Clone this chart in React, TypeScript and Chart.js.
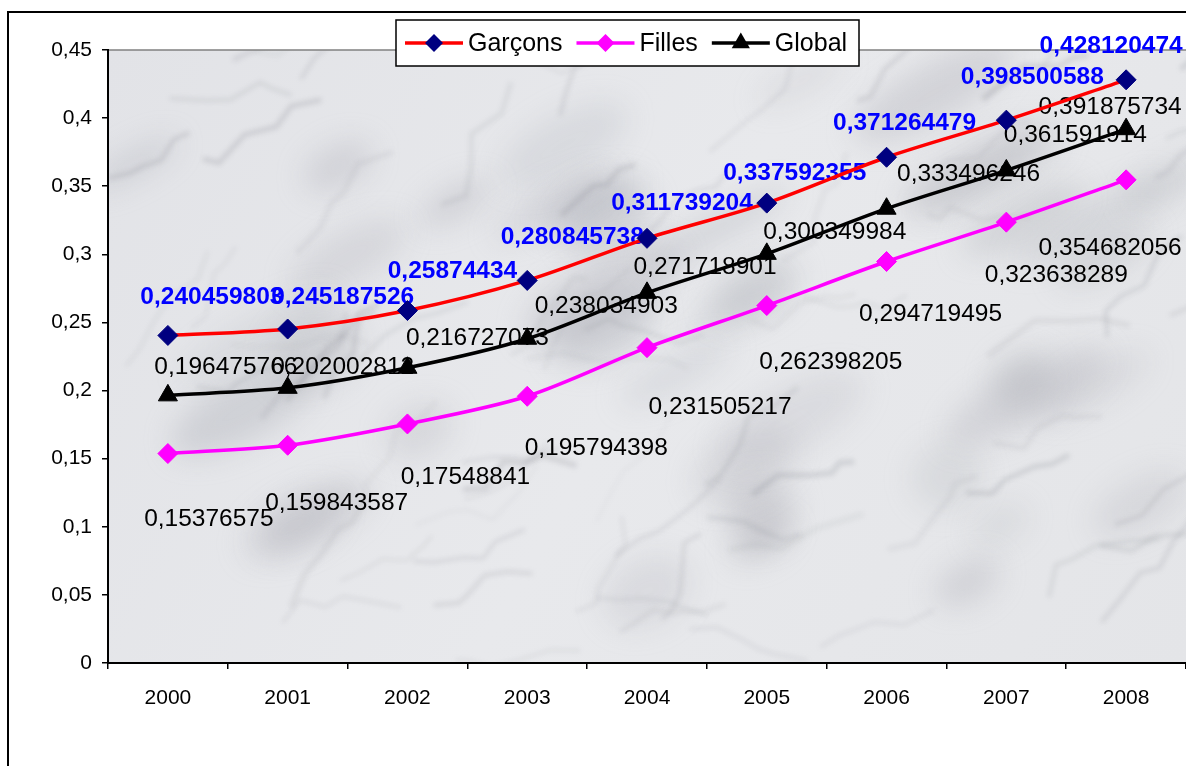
import { useEffect, useRef } from 'react'
import { Chart, registerables } from 'chart.js'
import type { Plugin } from 'chart.js'

Chart.register(...registerables)

const years = ['2000', '2001', '2002', '2003', '2004', '2005', '2006', '2007', '2008']
const seriesNames = ['Garçons', 'Filles', 'Global']

const garcons = [0.240459803, 0.245187526, 0.25874434, 0.280845738, 0.311739204, 0.337592355, 0.371264479, 0.398500588, 0.428120474]
const filles = [0.15376575, 0.159843587, 0.17548841, 0.195794398, 0.231505217, 0.262398205, 0.294719495, 0.323638289, 0.354682056]
const globalRate = [0.196475766, 0.202002812, 0.216727073, 0.238034903, 0.271718901, 0.300349984, 0.333496246, 0.361591914, 0.391875734]

// where each value label sits relative to its point (px), as placed in the original sheet
const garconsLabelDx = [44, 55, 45, 45, 35, 28, 18, 26, -15]
const garconsLabelDy = [-38, -32, -39, -43, -35, -30, -34, -43, -34]
const fillesLabelDx = [41, 49, 58, 69, 73, 64, 44, 50, -16]
const fillesLabelDy = [66, 58, 53, 52, 60, 57, 53, 53, 68]
const globalLabelDx = [58, 55, 70, 79, 58, 68, 82, 69, -16]
const globalLabelDy = [-28, -21, -30, -32, -26, -22, -34, -35, -22]

const FONT = '"Liberation Sans", Arial, sans-serif'

const labelOffsets = [
  { dx: garconsLabelDx, dy: garconsLabelDy, color: '#0000ff', weight: 'bold' },
  { dx: fillesLabelDx, dy: fillesLabelDy, color: '#000000', weight: 'normal' },
  { dx: globalLabelDx, dy: globalLabelDy, color: '#000000', weight: 'normal' },
]

const formatValue = (v: number) => String(v).replace('.', ',')

// soft deterministic hash for the marble veins
const hash = (n: number) => {
  const s = Math.sin(n * 12.9898) * 43758.5453
  return s - Math.floor(s)
}

const backgroundPlugin: Plugin<'line'> = {
  id: 'sheetBackground',
  beforeDraw(chart) {
    const { ctx, chartArea, width, height } = chart
    ctx.save()
    ctx.fillStyle = '#ffffff'
    ctx.fillRect(0, 0, width, height)

    const w = chartArea.right - chartArea.left
    const h = chartArea.bottom - chartArea.top
    const grad = ctx.createLinearGradient(chartArea.left, chartArea.top, chartArea.right, chartArea.bottom)
    grad.addColorStop(0, '#e2e3e7')
    grad.addColorStop(0.5, '#e8e9ec')
    grad.addColorStop(1, '#e4e5e8')
    ctx.fillStyle = grad
    ctx.fillRect(chartArea.left, chartArea.top, w, h)

    ctx.beginPath()
    ctx.rect(chartArea.left, chartArea.top, w, h)
    ctx.clip()

    // cloudy patches
    ctx.filter = 'blur(14px)'
    for (let k = 0; k < 40; k++) {
      const cx = chartArea.left + hash(k + 901) * w
      const cy = chartArea.top + hash(k + 1001) * h
      ctx.fillStyle = `rgba(170,172,180,${0.18 + hash(k + 1101) * 0.2})`
      ctx.beginPath()
      ctx.ellipse(cx, cy, 30 + hash(k + 1201) * 60, 12 + hash(k + 1301) * 25, -0.5, 0, Math.PI * 2)
      ctx.fill()
    }

    // veins
    ctx.filter = 'blur(2.5px)'
    for (let k = 0; k < 70; k++) {
      let x = chartArea.left + hash(k + 1) * w
      let y = chartArea.top + hash(k + 101) * h
      const ang = -0.6 + (hash(k + 301) - 0.5) * 1.2
      ctx.strokeStyle = `rgba(120,122,132,${0.08 + hash(k + 401) * 0.14})`
      ctx.lineWidth = 1.5 + hash(k + 501) * 4
      ctx.beginPath()
      ctx.moveTo(x, y)
      for (let s = 0; s < 5; s++) {
        const a = ang + (hash(k * 7 + s + 601) - 0.5) * 1.4
        const len = 12 + hash(k * 7 + s + 701) * 26
        x += Math.cos(a) * len
        y += Math.sin(a) * len
        ctx.lineTo(x, y)
      }
      ctx.stroke()
    }
    ctx.filter = 'none'
    ctx.restore()

    ctx.save()
    ctx.strokeStyle = '#808080'
    ctx.lineWidth = 1.5
    ctx.beginPath()
    ctx.moveTo(chartArea.left, chartArea.top)
    ctx.lineTo(chartArea.right, chartArea.top)
    ctx.stroke()

    ctx.strokeStyle = '#000000'
    ctx.lineWidth = 2
    ctx.strokeRect(8, 12, width + 100, height + 100)
    ctx.restore()
  },
}

const valueLabelPlugin: Plugin<'line'> = {
  id: 'valueLabels',
  beforeDatasetsDraw(chart) {
    const { ctx } = chart
    ctx.save()
    ctx.textAlign = 'center'
    ctx.textBaseline = 'middle'
    chart.data.datasets.forEach((ds, i) => {
      const meta = chart.getDatasetMeta(i)
      const style = labelOffsets[i]
      ctx.fillStyle = style.color
      ctx.font = `${style.weight} 24.5px ${FONT}`
      meta.data.forEach((pt, j) => {
        const v = ds.data[j] as number
        ctx.fillText(formatValue(v), pt.x + style.dx[j], pt.y + style.dy[j])
      })
    })
    ctx.restore()
  },
}

const legendPlugin: Plugin<'line'> = {
  id: 'boxLegend',
  afterDraw(chart) {
    const { ctx } = chart
    const boxLeft = 396
    const boxTop = 20
    const boxW = 463
    const boxH = 46
    const cy = boxTop + boxH / 2
    ctx.save()
    ctx.fillStyle = '#ffffff'
    ctx.fillRect(boxLeft, boxTop, boxW, boxH)
    ctx.strokeStyle = '#000000'
    ctx.lineWidth = 1.5
    ctx.strokeRect(boxLeft, boxTop, boxW, boxH)

    ctx.font = `25px ${FONT}`
    ctx.textBaseline = 'middle'
    ctx.textAlign = 'left'
    let x = boxLeft + 9
    chart.data.datasets.forEach((ds) => {
      const lineColor = ds.borderColor as string
      const markColor = (ds as any).pointBackgroundColor as string
      const style = (ds as any).pointStyle as string
      ctx.strokeStyle = lineColor
      ctx.lineWidth = 3.5
      ctx.beginPath()
      ctx.moveTo(x, cy)
      ctx.lineTo(x + 58, cy)
      ctx.stroke()
      ctx.fillStyle = markColor
      ctx.beginPath()
      const mx = x + 29
      if (style === 'triangle') {
        const r = 10.5
        ctx.moveTo(mx, cy - r)
        ctx.lineTo(mx + r * 0.866, cy + r / 2)
        ctx.lineTo(mx - r * 0.866, cy + r / 2)
      } else {
        const r = 9
        ctx.moveTo(mx, cy - r)
        ctx.lineTo(mx + r, cy)
        ctx.lineTo(mx, cy + r)
        ctx.lineTo(mx - r, cy)
      }
      ctx.closePath()
      ctx.fill()
      ctx.fillStyle = '#000000'
      const label = ds.label ?? ''
      ctx.fillText(label, x + 63, cy + 1)
      x += 63 + ctx.measureText(label).width + 14
    })
    ctx.restore()
  },
}

export default function App() {
  const canvasRef = useRef<HTMLCanvasElement>(null)
  const chartRef = useRef<Chart<'line'> | null>(null)

  useEffect(() => {
    if (!canvasRef.current) return
    const ctx = canvasRef.current.getContext('2d')
    if (!ctx) return

    chartRef.current = new Chart(ctx, {
      type: 'line',
      data: {
        labels: years,
        datasets: [
          {
            label: seriesNames[0],
            data: garcons,
            borderColor: '#ff0000',
            borderWidth: 3.5,
            pointStyle: 'rectRot',
            pointRadius: 10,
            pointBackgroundColor: '#000080',
            pointBorderColor: '#000080',
            pointBorderWidth: 1,
            tension: 0.3,
          },
          {
            label: seriesNames[1],
            data: filles,
            borderColor: '#ff00ff',
            borderWidth: 3.5,
            pointStyle: 'rectRot',
            pointRadius: 10,
            pointBackgroundColor: '#ff00ff',
            pointBorderColor: '#ff00ff',
            pointBorderWidth: 1,
            tension: 0.3,
          },
          {
            label: seriesNames[2],
            data: globalRate,
            borderColor: '#000000',
            borderWidth: 3.5,
            pointStyle: 'triangle',
            pointRadius: 11,
            pointBackgroundColor: '#000000',
            pointBorderColor: '#000000',
            pointBorderWidth: 1,
            tension: 0.3,
          },
        ],
      },
      options: {
        responsive: true,
        maintainAspectRatio: false,
        animation: false,
        layout: {
          autoPadding: false,
          padding: { top: 50, left: 0, right: 0, bottom: 0 },
        },
        plugins: {
          legend: { display: false },
          tooltip: { enabled: false },
        },
        scales: {
          x: {
            offset: true,
            grid: {
              offset: true,
              drawOnChartArea: false,
              drawTicks: true,
              tickLength: 6,
              color: '#000000',
              lineWidth: 1.5,
            },
            border: { display: true, color: '#000000', width: 2 },
            ticks: {
              color: '#000000',
              padding: 17,
              font: { family: FONT, size: 21 },
              maxRotation: 0,
            },
            afterFit(scale) {
              scale.height = 103
              scale.paddingLeft = 0
              scale.paddingRight = 0
            },
          },
          y: {
            min: 0,
            max: 0.45,
            ticks: {
              stepSize: 0.05,
              color: '#000000',
              padding: 10,
              font: { family: FONT, size: 21 },
              callback(value) {
                return formatValue(Math.round(Number(value) * 100) / 100)
              },
            },
            grid: {
              drawOnChartArea: false,
              drawTicks: true,
              tickLength: 6,
              color: '#000000',
              lineWidth: 1.5,
            },
            border: { display: true, color: '#000000', width: 2 },
            afterFit(scale) {
              scale.width = 108
            },
          },
        },
      },
      plugins: [backgroundPlugin, valueLabelPlugin, legendPlugin],
    })

    return () => {
      if (chartRef.current) {
        chartRef.current.destroy()
        chartRef.current = null
      }
    }
  }, [])

  return (
    <div style={{ position: 'fixed', left: 0, top: 0, width: 1186, height: 766, background: '#ffffff' }}>
      <canvas ref={canvasRef} />
    </div>
  )
}
